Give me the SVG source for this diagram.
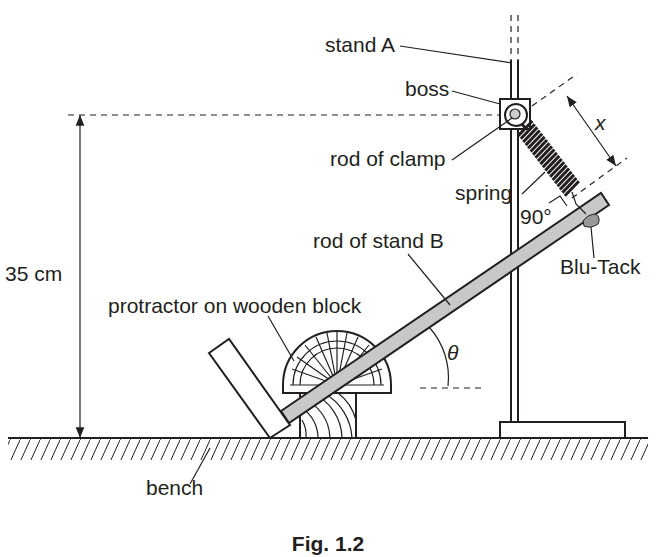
<svg xmlns="http://www.w3.org/2000/svg" width="656" height="557" viewBox="0 0 656 557">
<style>
text{font-family:"Liberation Sans",Arial,sans-serif;font-size:21px;fill:#231f20}
.l{stroke:#231f20;stroke-width:1.2;fill:none}
.t{stroke:#231f20;stroke-width:2;fill:none}
.w{stroke:#231f20;stroke-width:2;fill:#fff}
.d{stroke:#231f20;stroke-width:1.2;fill:none;stroke-dasharray:6 5}
</style>
<defs>
<pattern id="h" width="10" height="22" patternUnits="userSpaceOnUse"><path d="M0 22 L10 0" stroke="#231f20" stroke-width="1"/></pattern>
<marker id="a" viewBox="0 0 10 10" refX="10" refY="5" markerWidth="9" markerHeight="9" orient="auto-start-reverse"><path d="M0 1 L10 5 L0 9 Z" fill="#231f20"/></marker>
</defs>
<rect width="656" height="557" fill="#fff"/>
<rect x="8" y="438" width="640" height="22" fill="url(#h)"/>
<line x1="8" y1="438" x2="648" y2="438" class="t"/>
<line x1="511" y1="15" x2="511" y2="60" class="d" stroke-width="2"/>
<line x1="518" y1="15" x2="518" y2="60" class="d" stroke-width="2"/>
<line x1="511" y1="60" x2="511" y2="422" class="t"/>
<line x1="518" y1="60" x2="518" y2="422" class="t"/>
<rect x="500" y="422" width="125" height="16" class="w"/>
<line x1="68" y1="115" x2="500" y2="115" class="d"/>
<line x1="80" y1="115" x2="80" y2="438" class="l" marker-start="url(#a)" marker-end="url(#a)"/>
<text x="5" y="281">35 cm</text>
<polygon points="209,353 229,339 290,425 270,438" class="w"/>
<rect x="300" y="393" width="56" height="45" class="w"/>
<g class="l" stroke-width="0.8">
<path d="M306 438 A30 30 0 0 0 302 420"/><path d="M318 438 A36 36 0 0 0 302 408"/>
<path d="M330 438 A44 44 0 0 0 302 398"/><path d="M342 438 A50 50 0 0 0 312 393"/>
<path d="M352 438 A55 55 0 0 0 324 393"/><path d="M356 420 A50 50 0 0 0 338 393"/>
</g>
<path d="M283 393 L391 393 L391 385 A54 54 0 0 0 283 385 Z" class="w"/>
<g class="l" stroke-width="0.6">
<path d="M293 385 A44 44 0 0 1 381 385"/><path d="M300 385 A37 37 0 0 1 374 385"/>
<path d="M337 385 L290 385 M337 385 L292 369 M337 385 L297 357 M337 385 L305 345 M337 385 L316 337 M337 385 L327 333 M337 385 L337 332 M337 385 L347 333 M337 385 L358 337 M337 385 L369 345 M337 385 L377 357 M337 385 L382 369 M337 385 L384 385"/>
</g>
<polygon points="281,411 601,193 609,205 289,423" style="fill:#c8c8c8;stroke:#231f20;stroke-width:2"/>
<rect x="500" y="99" width="30" height="30" class="w"/>
<circle cx="516" cy="115" r="11" class="w"/>
<circle cx="515" cy="114" r="5" style="fill:#ccc;stroke:#231f20;stroke-width:1.2"/>
<line x1="420" y1="388" x2="486" y2="388" class="d"/>
<path d="M429 327 A75 75 0 0 1 448 386" class="l"/>
<text x="447" y="360" font-style="italic" font-family="Liberation Serif,serif">θ</text>
<g transform="translate(522,124) rotate(52.3)">
<path d="M0 0 L4 0 M4 -10 L7 10 M8 -10 L11 10 M12 -10 L15 10 M16 -10 L19 10 M20 -10 L23 10 M24 -10 L27 10 M28 -10 L31 10 M32 -10 L35 10 M36 -10 L39 10 M40 -10 L43 10 M44 -10 L47 10 M48 -10 L51 10 M52 -10 L55 10 M56 -10 L59 10 M60 -10 L63 10 M64 -10 L67 10 M68 -10 L71 10 M72 -10 L75 10 M76 -10 L79 10 M80 -10 L83 10" stroke="#231f20" stroke-width="3" fill="none"/>
</g>
<path d="M572 192 L576 204 L586 214" class="l" stroke-width="1.8"/>
<path d="M583 221 Q588 214 596 214 Q601 218 598 224 Q591 229 584 226 Z" style="fill:#999;stroke:#231f20;stroke-width:1"/>
<line x1="532" y1="106" x2="577" y2="74" class="d"/>
<line x1="572" y1="198" x2="627" y2="158" class="d"/>
<line x1="567" y1="96" x2="616" y2="166" class="l" marker-start="url(#a)" marker-end="url(#a)"/>
<text x="595" y="130" font-style="italic">x</text>
<path d="M549 203 L560 196 L567 206" class="l"/>
<text x="520" y="224">90°</text>
<g id="labels">
<text x="325" y="52">stand A</text><path d="M400 46 L512 63" class="l"/>
<text x="405" y="96">boss</text><path d="M452 91 L500 104" class="l"/>
<text x="330" y="166">rod of clamp</text><path d="M452 160 L512 118" class="l"/>
<text x="455" y="200">spring</text><path d="M522 194 L545 172" class="l"/>
<text x="313" y="248">rod of stand B</text><path d="M408 254 L450 305" class="l"/>
<text x="108" y="313">protractor on wooden block</text><path d="M268 316 L294 361" class="l"/>
<text x="560" y="274">Blu-Tack</text><path d="M591 227 L594 258" class="l"/>
<text x="146" y="495">bench</text><path d="M190 484 L210 448" class="l"/>
<text x="328" y="551" text-anchor="middle" font-weight="bold">Fig. 1.2</text>
</g>
</svg>
